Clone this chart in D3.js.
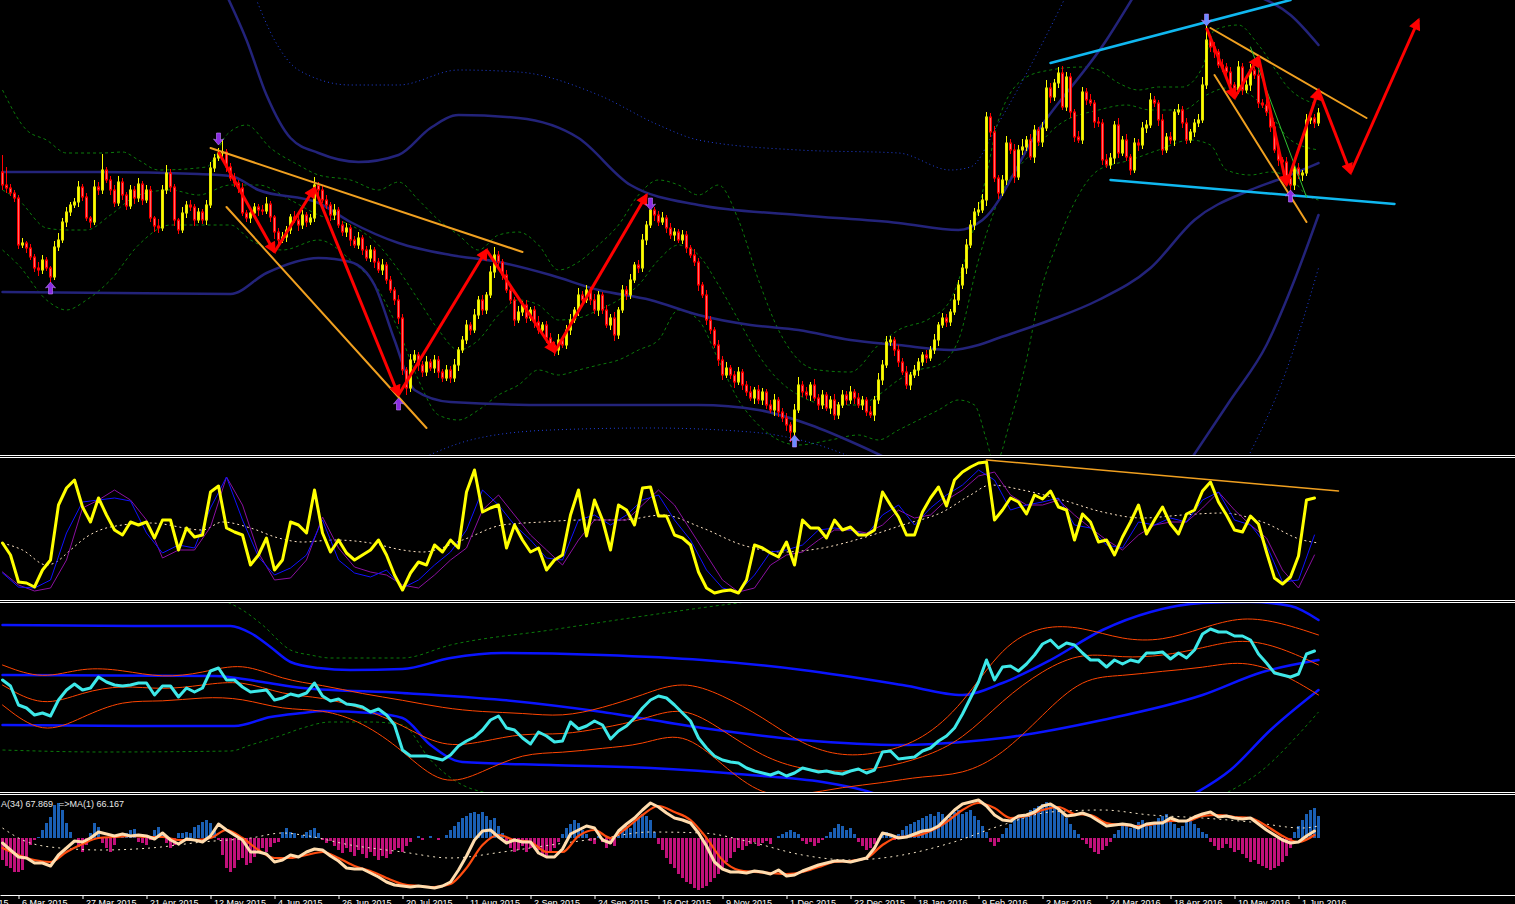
<!DOCTYPE html>
<html><head><meta charset="utf-8">
<script src="https://cdn.jsdelivr.net/npm/d3@7/dist/d3.min.js"></script>
<style>html,body{margin:0;padding:0;background:#000;overflow:hidden;}svg{display:block}</style>
</head><body>
<svg id="chart" width="1515" height="904"></svg>
<script>
// ---------- DATA ----------
const tickLabels = ["13 Feb 2015","6 Mar 2015","27 Mar 2015","21 Apr 2015","12 May 2015","4 Jun 2015","26 Jun 2015","20 Jul 2015","11 Aug 2015","2 Sep 2015","24 Sep 2015","16 Oct 2015","9 Nov 2015","1 Dec 2015","22 Dec 2015","18 Jan 2016","9 Feb 2016","2 Mar 2016","24 Mar 2016","18 Apr 2016","10 May 2016","1 Jun 2016"];
const tickBars = [-12,4,20,36,52,68,84,100,116,132,148,164,180,196,212,228,244,260,276,292,308,324];

const firstOpen = 328;
const closes = [
315,312,307,302,255,257,252,243,232,230,
240,232,223,253,260,278,288,295,298,313,
303,282,278,313,310,330,320,310,297,318,
305,294,310,302,316,300,310,282,274,272,
310,327,313,280,270,287,295,293,280,288,
280,295,332,342,347,348,333,322,317,312,
287,282,287,293,290,289,296,283,268,260,
263,270,283,280,275,285,278,282,315,310,
300,295,285,290,275,268,272,260,255,262,
250,242,250,238,230,235,220,210,200,182,
130,112,140,145,135,128,138,132,140,128,
122,130,122,135,150,160,175,170,185,200,
190,205,228,245,238,225,210,200,180,188,
195,182,190,178,170,175,162,155,150,160,
155,170,180,190,205,200,210,200,190,205,
190,175,182,165,190,210,205,220,235,232,
260,275,290,285,278,282,272,265,268,260,
265,252,245,238,215,205,180,170,155,140,
125,132,125,118,128,115,108,102,110,100,
108,95,90,100,88,82,75,68,90,115,
108,105,115,102,95,105,92,100,85,95,
105,100,108,102,95,100,88,85,100,120,
135,158,160,150,138,128,115,125,130,138,
145,142,150,160,175,182,178,188,200,215,
232,255,275,288,290,300,383,368,322,307,
320,357,350,323,350,353,360,343,370,358,
372,412,403,417,427,393,423,388,363,360,
408,400,397,378,377,340,335,342,375,347,
360,343,330,357,355,372,375,400,397,380,
350,363,360,388,390,377,360,368,377,380,
415,460,453,448,435,433,428,415,410,433,
410,415,430,425,397,395,388,373,350,340,
338,322,315,332,325,327,380,382,377,387];
const wickUp = [
17,18,4,3,3,5,2,4,3,6, 5,3,2,6,7,4,5,3,4,6, 3,4,2,7,5,16,3,4,5,6, 4,3,5,4,6,3,5,4,2,7,
5,8,4,3,2,6,4,5,3,4, 3,5,6,4,5,12,3,4,5,3, 5,3,6,4,3,5,7,3,2,4, 5,4,3,6,4,5,3,4,8,3,
4,5,3,6,3,4,5,3,4,6, 3,4,5,3,4,6,3,4,3,5, 4,3,6,5,3,4,6,3,5,4, 3,5,4,6,3,4,5,3,6,4,
5,3,6,8,4,3,5,4,3,6, 4,5,3,4,6,3,4,5,3,6, 4,5,6,3,7,4,5,3,6,4, 3,5,4,6,3,5,4,6,3,5,
6,4,5,3,4,6,3,5,4,3, 5,4,3,6,4,3,5,4,3,5, 4,6,3,4,5,3,4,6,3,5, 4,3,5,6,3,4,5,3,6,8,
4,5,3,6,4,5,3,4,6,3, 5,4,6,3,5,4,3,6,4,7, 5,6,4,3,5,4,6,3,5,4, 3,5,4,6,3,5,4,3,6,5,
4,6,5,4,8,6,5,4,6,3, 5,7,4,6,5,8,4,6,5,3, 6,8,5,4,6,7,5,4,3,6, 5,4,6,3,5,4,6,5,4,7,
4,6,3,5,4,6,5,7,4,3, 6,4,5,3,6,4,5,3,4,6, 8,14,4,5,3,6,4,5,3,6, 4,5,6,3,5,4,6,3,5,4,
3,5,6,4,5,3,6,6,4,5];
const wickDn = [
5,5,3,4,4,3,5,3,4,6, 4,3,8,3,4,3,5,4,3,5, 4,3,6,3,5,4,3,5,4,3, 5,4,3,6,4,5,3,4,6,5,
3,4,5,6,4,3,5,4,6,3, 4,5,3,4,3,4,5,3,4,5, 3,4,5,3,6,4,3,5,7,4, 3,5,4,3,6,4,5,3,4,5,
3,4,6,5,3,4,5,6,3,4, 5,3,4,6,3,5,4,3,5,6, 5,7,4,3,6,5,4,3,5,6, 4,3,5,4,6,3,4,5,3,4,
5,4,3,6,4,5,3,4,6,3, 4,5,3,6,4,3,5,4,6,5, 3,4,5,3,6,4,3,5,4,6, 4,3,5,6,4,3,5,4,3,5,
4,5,3,6,4,3,5,4,6,3, 4,5,3,4,6,3,5,4,3,6, 5,3,4,6,3,5,4,3,6,4, 5,4,3,6,5,4,6,10,4,3,
5,4,6,3,5,4,3,6,5,4, 3,5,4,6,3,5,4,3,6,4, 5,3,4,6,5,3,4,5,3,6, 4,5,3,4,6,3,5,4,3,5,
4,6,3,5,4,3,6,5,4,6, 3,5,4,6,3,5,4,3,6,4, 5,3,6,4,5,3,4,6,5,3, 4,5,3,6,4,5,3,4,6,5,
3,4,5,3,6,4,5,3,4,6, 5,3,4,6,3,5,4,3,5,4, 3,4,5,6,3,5,4,6,3,4, 5,3,6,4,5,3,4,5,3,6,
4,5,8,5,4,6,3,4,5,3];

// main-panel overlays: [bar, price]
const bandUpperN = [[56,505],[61,460],[66,405],[72,362],[79,347],[89,338],[99,345],[107,372],[114,385],[129,382],[144,362],[157,315],[174,295],[199,285],[224,277],[239,270],[245,280],[259,370],[276,460],[283,505]];
const bandUpperN2 = [[313,505],[322,485],[329,455]];
const bandMidN = [[0,328],[24,328],[49,326],[57,324],[64,310],[79,297],[87,278],[99,257],[112,245],[124,238],[137,225],[149,210],[162,200],[174,185],[187,175],[199,170],[212,160],[224,155],[237,150],[244,155],[249,162],[262,180],[274,200],[287,232],[298,280],[312,310],[320,322],[329,337]];
const bandLowerN = [[0,208],[57,206],[66,227],[79,242],[87,238],[93,215],[98,160],[103,110],[112,98],[137,95],[174,95],[189,90],[202,75],[214,55],[222,40]];
const bandLowerN2 = [[297,40],[307,100],[316,155],[323,220],[329,285]];
const dotUpper = [[63,505],[68,460],[74,430],[87,415],[99,415],[114,430],[129,428],[149,405],[164,375],[174,360],[199,350],[224,347],[237,330],[242,333],[249,377],[260,457],[266,505]];
const dotLower = [[104,40],[117,60],[137,70],[162,72],[187,68],[204,55],[214,40]];
const dotLower2 = [[311,40],[321,130],[329,232]];
const greenUpper = [[0,410],[6,370],[11,360],[16,347],[25,347],[30,348],[34,340],[39,330],[51,333],[56,365],[61,375],[67,352],[74,335],[79,325],[87,320],[94,310],[99,318],[104,300],[109,280],[114,265],[119,250],[124,265],[129,268],[134,255],[139,230],[144,238],[149,255],[154,275],[159,305],[164,320],[169,315],[174,305],[179,315],[184,280],[189,220],[194,170],[199,140],[204,130],[212,128],[219,155],[224,170],[232,182],[237,200],[242,260],[246,325],[249,380],[256,423],[262,430],[270,433],[274,430],[279,417],[284,410],[289,413],[295,413],[300,433],[303,470],[309,475],[314,455],[322,410],[329,395]];
const greenMid = [[0,310],[4,300],[11,272],[16,270],[21,270],[27,285],[34,305],[42,310],[49,305],[57,315],[64,315],[72,300],[79,285],[87,275],[94,255],[99,230],[104,200],[109,170],[114,150],[119,160],[124,185],[129,200],[134,195],[139,180],[144,182],[149,190],[154,200],[159,215],[164,240],[169,255],[174,245],[179,215],[184,180],[189,145],[194,120],[199,105],[207,95],[214,95],[219,105],[224,120],[229,130],[234,135],[239,160],[244,240],[249,300],[258,350],[264,375],[274,390],[281,395],[287,390],[295,390],[301,405],[306,412],[312,405],[317,385],[322,360],[329,350]];
const greenLower = [[0,250],[4,235],[11,200],[16,190],[21,200],[27,220],[34,255],[42,275],[49,275],[57,275],[62,260],[70,250],[79,260],[87,240],[94,210],[99,170],[104,120],[109,85],[114,80],[119,90],[124,105],[129,115],[134,130],[139,125],[144,130],[149,135],[154,140],[159,150],[164,160],[169,190],[174,180],[179,140],[184,100],[189,75],[194,60],[199,55],[207,60],[214,65],[219,60],[224,70],[229,80],[234,90],[239,100],[243,95],[246,60],[248,35],[252,80],[256,140],[259,200],[264,260],[269,305],[274,330],[282,340],[289,350],[297,360],[302,355],[306,330],[312,325],[317,328],[322,322],[326,305],[329,300]];
const orangeTrend = [[[52,352],[130,248]],[[56,293],[106,72]],[[302,472],[341,382]],[[303,425],[326,278]]];
const cyanTrend = [[[262,437],[322,500]],[[277,320],[348,296]]];
const greenTrend = [[312,453],[326,303]];
const zigzagLeft = [[54,348],[68,248],[78,312],[99,105],[121,250],[138,148],[161,305]];
const zigzagRight = [[301,472],[308,402],[314,443],[321,315],[329,410],[337,327],[354,480]];
const fractalUp = [[12,218],[99,102],[198,65],[322,310]];
const fractalDown = [[54,355],[162,290],[301,474]];

// panel 2 oscillator (yellow every 2 bars, blue/purple every 4 bars)
const oscMain = [
57,45,18,17,13,30,40,95,112,120, 93,78,102,85,70,65,78,75,78,62,
80,80,50,72,63,65,108,114,72,68, 65,35,45,62,30,40,78,75,67,110,
67,48,60,47,40,45,50,60,45,25, 10,27,38,35,55,48,60,52,108,130,
88,92,95,52,75,60,48,52,30,40, 45,85,110,64,100,80,50,95,90,75,
112,113,84,84,65,62,55,28,12,7, 9,10,7,20,55,52,47,43,58,35,
80,72,72,62,80,70,73,65,65,70, 108,95,83,65,65,88,102,113,94,120,
128,133,137,138,80,90,102,98,86,105, 101,109,93,90,60,86,78,58,60,45,
63,78,95,66,80,93,76,66,86,90, 109,118,98,85,70,68,84,76,48,22,
16,23,44,100,102];
const oscFast = [
27,13,12,20,67,98,100,102,99,67, 47,55,52,92,123,80,43,25,32,45,
80,40,27,23,30,12,20,35,48,70, 110,95,75,60,42,40,80,85,75,85,
100,105,80,60,30,12,8,25,48,50, 55,70,72,70,65,85,95,75,92,105,
115,130,120,90,95,98,102,75,72,55, 52,78,75,82,78,100,108,80,75,55,
18,20,65];
const oscSlow = [
28,15,9,12,40,92,100,110,100,80, 42,50,50,73,123,95,47,20,22,40,
83,52,33,28,25,15,12,25,40,52, 90,105,85,65,50,35,60,80,80,80,
95,110,95,70,45,20,8,12,35,45, 48,60,70,70,67,75,90,82,85,100,
110,124,128,105,95,95,100,85,72,60, 50,65,75,78,78,92,108,90,75,62,
30,12,45];
const oscBase = [[0,57],[5,50],[11,35],[13,37],[17,50],[21,63],[27,73],[37,77],[50,70],[55,78],[62,72],[69,62],[75,58],[83,60],[92,57],[100,50],[105,48],[115,60],[125,75],[135,78],[145,80],[155,80],[165,85],[175,72],[185,55],[195,48],[205,52],[215,62],[225,75],[235,88],[242,105],[247,115],[255,110],[265,100],[275,88],[285,82],[295,85],[305,87],[315,78],[325,60],[329,57]];
const oscTrend = [[246,140],[334,109]];

// panel 3
const p3Main = [
112,106,87,84,77,79,76,92,102,108, 102,104,115,110,107,106,107,109,109,97,
106,106,95,104,100,104,121,124,112,112, 105,100,101,102,92,94,98,96,99,109,
96,91,93,88,87,85,80,83,77,67, 42,36,36,36,34,32,37,46,51,55,
62,72,76,64,62,54,48,60,56,50, 51,70,63,66,71,67,53,61,66,74,
84,92,96,94,87,79,71,54,44,36, 32,30,29,24,21,19,17,20,16,19,
24,22,20,21,19,18,21,23,19,22, 40,41,33,34,35,41,44,51,56,64,
78,94,110,132,112,125,126,121,128,137, 148,152,144,149,147,139,132,132,125,132,
128,132,130,139,139,140,133,139,134,142, 158,163,160,160,156,156,152,138,129,119,
117,115,118,138,141];
const p3BandUp = [127,112,125,122,114,119,130,112,107,98,92,84,80,79,75,84,97,112,97,75,47,35,39,52,87,147,167,165,152,151,164,176,169,157];
const p3BandMid = [107,84,100,107,102,107,112,97,95,84,67,44,50,59,57,64,72,87,62,35,22,20,24,34,52,92,122,140,134,136,144,154,144,127];
const p3BandLow = [87,56,75,92,90,95,94,82,83,70,42,4,20,39,39,44,47,62,27,-5,-3,5,9,16,17,37,77,115,116,121,124,132,119,97];
const p3BlueUp = [[0,167],[33,166],[57,166],[62,159],[67,145],[72,130],[79,124],[87,122],[100,123],[112,134],[125,139],[150,137],[175,132],[200,122],[225,107],[240,97],[250,109],[262,132],[275,162],[287,180],[300,189],[312,190],[322,186],[329,172]];
const p3BlueMid = [[0,117],[53,116],[65,110],[75,104],[100,99],[125,92],[150,80],[175,64],[200,52],[225,47],[240,50],[250,54],[275,72],[300,97],[315,120],[329,132]];
const p3BlueLow = [[0,67],[33,66],[58,66],[67,75],[75,79],[80,81],[92,79],[100,74],[107,47],[115,30],[137,27],[162,24],[187,17],[205,10],[215,2],[220,-4]];
const p3BlueLow2 = [[297,-4],[307,22],[317,62],[329,102]];
const p3GreenUp = [[55,192],[60,182],[65,167],[72,142],[77,137],[82,134],[100,134],[112,147],[137,162],[162,177],[180,187],[190,192]];
const p3GreenLow = [[0,42],[25,40],[57,41],[62,47],[70,57],[75,64],[82,70],[92,70],[100,67],[107,32],[115,7],[125,-3]];
const p3GreenLow2 = [[305,-3],[315,22],[325,62],[329,80]];

// panel 4
const p4Hist = [
-22,-28,-30,-34,-34,-32,-20,-7,-2,1, 8,15,21,33,35,28,15,6,0,-9,
-14,-7,5,15,11,-5,-10,-14,-7,0, 3,5,8,9,-4,-5,-7,-2,8,11,
6,-5,-10,-7,5,5,6,5,11,13, 16,18,15,8,-2,-17,-30,-34,-30,-22,
-20,-27,-25,-19,-14,-10,-14,-9,-5,-4, 6,10,6,5,0,3,6,8,10,5,
-2,-5,-3,-8,-12,-15,-10,-14,-18,-12, -16,-20,-14,-18,-22,-18,-20,-16,-12,-10,
-14,-8,-4,0,2,-2,0,2,0,-2, 0,3,8,12,16,20,22,25,26,24,
26,22,18,20,12,5,-4,-10,-14,-12, -8,-14,-10,-6,-12,-16,-18,-14,-10,-4,
4,10,14,18,15,8,4,-3,-6,2, -4,-10,-6,-8,2,8,12,10,16,20,
24,22,18,6,-6,-12,-20,-26,-30,-36, -40,-44,-46,-50,-52,-50,-48,-44,-40,-36,
-30,-24,-20,-14,-10,-12,-8,-6,-4,-8, -5,-3,-6,0,2,4,6,8,6,4,
-3,-6,-4,-8,-5,-2,2,6,10,14, 12,8,10,4,-4,-8,-12,-10,-6,-2,
3,6,2,-2,4,8,12,14,16,18, 20,22,24,22,26,24,20,22,26,28,
24,26,28,22,18,12,6,-4,-8,-4, 4,10,14,18,22,20,24,28,30,32,
34,36,34,30,28,24,20,14,8,4, -2,-6,-10,-14,-16,-12,-8,-4,4,8,
12,14,10,12,16,18,14,12,16,20, 22,24,18,14,10,12,16,18,14,10,
6,4,-4,-8,-12,-10,-6,-10,-14,-12, -16,-20,-24,-22,-26,-28,-30,-32,-30,-28,
-24,-18,-10,6,12,18,24,28,30,22];
const p4Main = [
52,45,38,37,32,32,29,40,47,54, 53,57,63,61,59,61,59,60,59,56,
62,55,51,56,55,53,59,71,65,60, 55,43,43,41,33,35,40,38,43,46,
45,39,34,27,26,26,22,18,13,10, 9,8,9,8,7,9,13,25,39,55,
64,65,58,52,55,53,53,42,38,38, 46,61,65,69,67,55,52,64,71,77,
85,92,88,82,77,75,72,62,49,33, 26,23,23,22,24,23,21,25,19,20,
24,27,30,32,34,34,33,35,37,47, 62,60,57,58,61,64,65,69,77,85,
91,93,95,89,80,75,74,79,80,83, 89,91,86,79,80,82,79,74,69,70,
71,70,67,71,72,72,77,74,74,78, 81,83,78,79,77,76,77,71,65,60,
55,52,53,59,64];
const p4Signal = [
47,40,35,33,43,51,57,58,59,58, 58,55,55,57,65,57,45,37,37,40,
43,37,29,24,17,11,9,8,11,27, 50,60,55,53,43,43,59,65,57,67,
80,89,83,75,57,35,25,23,22,21, 23,28,33,34,37,50,58,59,64,73,
85,92,87,77,79,85,88,81,80,72, 70,69,71,74,74,79,80,78,77,69,
59,53,60];
const p4Slow = [[0,67],[5,55],[12,48],[25,45],[37,47],[50,53],[62,57],[70,62],[75,60],[87,50],[100,43],[112,37],[125,43],[137,50],[150,57],[162,63],[175,62],[187,53],[200,40],[212,35],[225,40],[237,52],[250,70],[262,83],[275,85],[287,80],[300,77],[312,73],[325,67],[329,69]];
const p4LabelA = "A(34) 67.869";
const p4LabelB = "=>MA(1) 66.167";

// ---------- DRAW ----------
const W = 1515, H = 904;
const svg = d3.select('#chart');
svg.append('rect').attr('width', W).attr('height', H).attr('fill', '#000');

const x = d3.scaleLinear().domain([-0.625, 378.125]).range([0, W]);
const yMain = d3.scaleLinear().domain([45, 500]).range([455, 0]);
const yOsc = d3.scaleLinear().domain([0, 142]).range([600, 458]);
const yP3 = d3.scaleLinear().domain([0, 190]).range([792, 602]);
const yP4 = d3.scaleLinear().domain([0, 101]).range([895, 794]);
const yHist = d3.scaleLinear().domain([-57, 44]).range([895, 794]);

const defs = svg.append('defs');
function clip(id, y0, h) {
  defs.append('clipPath').attr('id', id).append('rect').attr('x', 0).attr('y', y0).attr('width', W).attr('height', h);
  return svg.append('g').attr('clip-path', `url(#${id})`);
}
defs.append('marker').attr('id', 'arr').attr('viewBox', '0 0 10 10').attr('refX', 8).attr('refY', 5)
  .attr('markerWidth', 5).attr('markerHeight', 4).attr('orient', 'auto')
  .append('path').attr('d', 'M0,0 L10,5 L0,10 z').attr('fill', '#ff0000');

const gMain = clip('cMain', 0, 455);
const gP2 = clip('cP2', 458, 142);
const gP3 = clip('cP3', 603, 189);
const gP4 = clip('cP4', 795, 100);

const step = (arr, s) => arr.map((v, k) => [Math.min(k * s, 329), v]);
function drawLine(g, pts, yS, color, w, dash, curve) {
  g.append('path').datum(pts)
    .attr('d', d3.line().x(d => x(d[0])).y(d => yS(d[1])).curve(curve || d3.curveLinear))
    .attr('fill', 'none').attr('stroke', color).attr('stroke-width', w || 1)
    .attr('stroke-dasharray', dash || null).attr('stroke-linejoin', 'round').attr('stroke-linecap', dash ? 'butt' : 'round');
}
const smooth = d3.curveMonotoneX;

// main bands
const gDash = '3,3';
drawLine(gMain, greenUpper, yMain, '#0b7a0b', 1, gDash, smooth);
drawLine(gMain, greenMid, yMain, '#0b7a0b', 1, gDash, smooth);
drawLine(gMain, greenLower, yMain, '#0b7a0b', 1, gDash, smooth);
drawLine(gMain, dotUpper, yMain, '#2040e0', 1, '1,3', smooth);
drawLine(gMain, dotLower, yMain, '#2040e0', 1, '1,3', smooth);
drawLine(gMain, dotLower2, yMain, '#2040e0', 1, '1,3', smooth);
[bandUpperN, bandUpperN2, bandMidN, bandLowerN, bandLowerN2].forEach(b => drawLine(gMain, b, yMain, '#23237a', 2.5, null, smooth));

// candles
const candles = closes.map((c, i) => {
  const o = i ? closes[i - 1] : firstOpen;
  return { i, o, c, h: Math.max(o, c) + wickUp[i], l: Math.min(o, c) - wickDn[i], up: c >= o };
});
const gC = gMain.append('g');
gC.selectAll('line.w').data(candles).join('line')
  .attr('x1', d => x(d.i)).attr('x2', d => x(d.i))
  .attr('y1', d => yMain(d.h)).attr('y2', d => yMain(d.l))
  .attr('stroke', d => d.up ? '#ffff00' : '#ff0000').attr('stroke-width', 1);
gC.selectAll('rect.b').data(candles).join('rect')
  .attr('x', d => x(d.i) - 1).attr('width', 2)
  .attr('y', d => yMain(Math.max(d.o, d.c)))
  .attr('height', d => Math.max(0.5, yMain(Math.min(d.o, d.c)) - yMain(Math.max(d.o, d.c))))
  .attr('fill', d => d.up ? '#ffff00' : '#ff6a6a')
  .attr('stroke', d => d.up ? '#e6e600' : '#ff0000').attr('stroke-width', 1);

// trend lines
orangeTrend.forEach(t => drawLine(gMain, t, yMain, '#f0a020', 2));
cyanTrend.forEach(t => drawLine(gMain, t, yMain, '#10b8f0', 2.5));
drawLine(gMain, greenTrend, yMain, '#30c030', 1);

// zigzag arrows
function zig(pts) {
  for (let k = 0; k < pts.length - 1; k++) {
    gMain.append('line').attr('x1', x(pts[k][0])).attr('y1', yMain(pts[k][1]))
      .attr('x2', x(pts[k + 1][0])).attr('y2', yMain(pts[k + 1][1]))
      .attr('stroke', '#ff0000').attr('stroke-width', 3).attr('marker-end', 'url(#arr)');
  }
}
zig(zigzagLeft); zig(zigzagRight);

// fractal arrows
function fractal(b, p, dir, col) {
  const cx = x(b), cy = yMain(p), s = dir;
  const d = `M${cx},${cy} L${cx + 5},${cy + 6 * s} L${cx + 2},${cy + 5 * s} L${cx + 2},${cy + 12 * s} L${cx - 2},${cy + 12 * s} L${cx - 2},${cy + 5 * s} L${cx - 5},${cy + 6 * s} Z`;
  gMain.append('path').attr('d', d).attr('fill', col).attr('stroke', '#c080ff').attr('stroke-width', 0.6);
}
fractalUp.forEach(([b, p]) => fractal(b, p, 1, (b === 198) ? '#6a8cff' : '#8a2be2'));
fractalDown.forEach(([b, p]) => fractal(b, p, -1, (b === 301) ? '#6a8cff' : '#8a2be2'));

// panel 2
drawLine(gP2, oscBase, yOsc, '#ffe4c4', 1, '2,3', smooth);
drawLine(gP2, step(oscSlow, 4), yOsc, '#8a10a0', 1);
drawLine(gP2, step(oscFast, 4), yOsc, '#1010ff', 1);
drawLine(gP2, step(oscMain, 2), yOsc, '#ffff00', 3);
drawLine(gP2, oscTrend, yOsc, '#f0a020', 1.5);

// panel 3
drawLine(gP3, p3GreenUp, yP3, '#0b7a0b', 1, gDash, smooth);
drawLine(gP3, p3GreenLow, yP3, '#0b7a0b', 1, gDash, smooth);
drawLine(gP3, p3GreenLow2, yP3, '#0b7a0b', 1, gDash, smooth);
[p3BlueUp, p3BlueMid, p3BlueLow, p3BlueLow2].forEach(b => drawLine(gP3, b, yP3, '#0a14ff', 2.5, null, smooth));
[p3BandUp, p3BandMid, p3BandLow].forEach(b => drawLine(gP3, step(b, 10), yP3, '#ff4500', 1, null, d3.curveBasis));
drawLine(gP3, step(p3Main, 2), yP3, '#3ee8e8', 3);

// panel 4
gP4.selectAll('rect.h').data(p4Hist.map((v, i) => ({ i, v }))).join('rect')
  .attr('x', d => x(d.i) - 1.5).attr('width', 3)
  .attr('y', d => d.v >= 0 ? yHist(d.v) : yHist(0))
  .attr('height', d => Math.abs(yHist(d.v) - yHist(0)))
  .attr('fill', d => d.v >= 0 ? '#1a5fb4' : '#c0117a');
drawLine(gP4, p4Slow, yP4, '#f5e6c8', 1, '2,4', smooth);
drawLine(gP4, step(p4Signal, 4), yP4, '#ff4d10', 2.2, null, smooth);
drawLine(gP4, step(p4Main, 2), yP4, '#ffdcae', 3);
svg.append('text').attr('x', 1).attr('y', 807).text(p4LabelA)
  .attr('fill', '#e8e8e8').attr('font-family', 'Liberation Sans, Arial, sans-serif').attr('font-size', 9);
svg.append('text').attr('x', 59).attr('y', 807).text(p4LabelB)
  .attr('fill', '#e8e8e8').attr('font-family', 'Liberation Sans, Arial, sans-serif').attr('font-size', 9);

// separators
[455.5, 457.5, 600.5, 602.5, 792.5, 794.5].forEach(yy =>
  svg.append('line').attr('x1', 0).attr('x2', W).attr('y1', yy).attr('y2', yy).attr('stroke', '#fff').attr('stroke-width', 1));

// time axis
const axis = d3.axisBottom(x).tickValues(tickBars).tickFormat((d, i) => tickLabels[i]).tickSize(4).tickSizeOuter(0);
const gAx = svg.append('g').attr('transform', 'translate(0,895)').call(axis);
gAx.select('.domain').attr('stroke', '#fff');
gAx.selectAll('.tick line').attr('stroke', '#fff');
gAx.selectAll('.tick text').attr('fill', '#fff').attr('text-anchor', 'start')
  .attr('x', 3).attr('y', 11).attr('dy', 0)
  .attr('font-family', 'Liberation Sans, Arial, sans-serif').attr('font-size', 9);
</script>
</body></html>
